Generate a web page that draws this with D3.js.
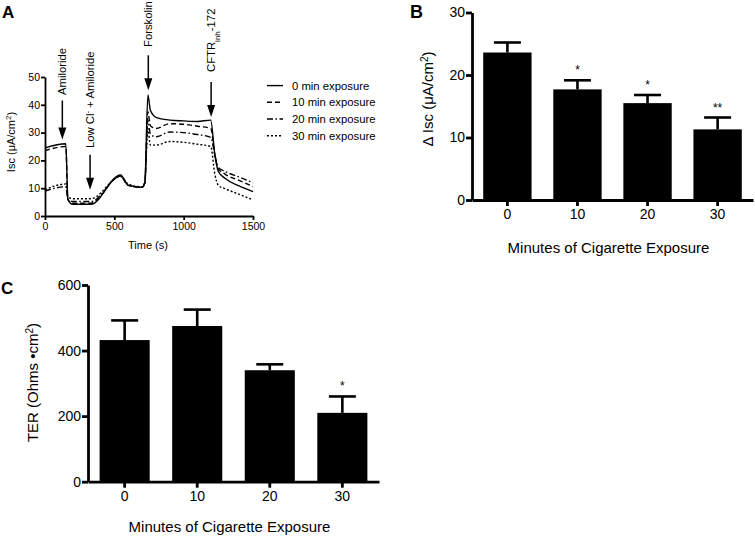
<!DOCTYPE html>
<html>
<head>
<meta charset="utf-8">
<script src="https://cdn.jsdelivr.net/npm/d3@7"></script>
<style>
  html, body { margin: 0; padding: 0; background: #fff; }
  svg { display: block; font-family: Arial, "Liberation Sans", Helvetica, sans-serif; }
</style>
</head>
<body>
<script>
// ---------------- Panel A data (Isc traces) ----------------
const timeS  = [0, 150, 165, 200, 330, 545, 600, 700, 720, 742, 760, 800, 900, 1000, 1100, 1195, 1225, 1250, 1300, 1400, 1500];
const isc0   = [24.5, 26, 6, 4.2, 4.2, 14.8, 11, 10.3, 12, 43.5, 38, 35.5, 34.5, 34.2, 34, 34.5, 22, 16, 13.5, 10.8, 8.8];
const isc10  = [23.5, 25, 6, 4.6, 4.6, 14.5, 11, 10.3, 12, 37.5, 32.5, 31.5, 33.2, 33, 32.3, 31.5, 22, 17, 15, 12.8, 10.6];
const isc20  = [9, 10.5, 6, 5.2, 5.2, 14.3, 11, 10.3, 12, 34.5, 29.5, 28.5, 30.2, 30, 29.3, 28.3, 22, 17.5, 16, 14, 12];
const isc30  = [9.5, 11.5, 7, 6.2, 6.2, 14.2, 11.5, 10.5, 12, 31.5, 25.5, 25.5, 26.8, 26.5, 25.8, 25, 15, 11, 9.8, 7.8, 5.8];
const seriesLabels = ["0 min exposure", "10 min exposure", "20 min exposure", "30 min exposure"];
const timeTicks = [0, 500, 1000, 1500];
const iscTicks = [0, 10, 20, 30, 40, 50];
// annotations: time (s) and arrow tip value
const annTimes = [125, 325, 745, 1198];
const annTips  = [27.5, 9.4, 45.2, 35.6];

// ---------------- Panel B data ----------------
const minutes = ["0", "10", "20", "30"];
const deltaIsc = [23.6, 17.7, 15.5, 11.3];
const deltaIscErr = [1.6, 1.45, 1.3, 1.9];
const deltaIscSig = ["", "*", "*", "**"];
const deltaIscTicks = [0, 10, 20, 30];

// ---------------- Panel C data ----------------
const ter = [432, 475, 340, 210];
const terErr = [60, 50, 18, 50];
const terSig = ["", "", "", "*"];
const terTicks = [0, 200, 400, 600];

const svg = d3.select("body").append("svg").attr("width", 755).attr("height", 536);

// ============ Panel A ============
const gA = svg.append("g");
const xA = d3.scaleLinear().domain([0, 1500]).range([45, 253]);
const yA = d3.scaleLinear().domain([0, 50]).range([216, 77]);

const axAx = gA.append("g").attr("transform", "translate(0,216)")
  .call(d3.axisBottom(xA).tickValues(timeTicks).tickSize(4).tickSizeOuter(0).tickPadding(3).tickFormat(d3.format("d")));
const axAy = gA.append("g").attr("transform", "translate(45,0)")
  .call(d3.axisLeft(yA).tickValues(iscTicks).tickSize(4).tickSizeOuter(0).tickPadding(1));
[axAx, axAy].forEach(a => {
  a.selectAll("path,line").attr("stroke", "#000").attr("stroke-width", 1.8);
  a.selectAll("text").attr("font-size", 10.5).attr("fill", "#000").attr("font-family", "Arial, 'Liberation Sans', sans-serif");
});

const seriesData = [isc0, isc10, isc20, isc30];
const dashes = [null, "5,3", "6,2.5,1.5,2.5", "2,2"];
const lineA = d3.line().x(d => xA(d[0])).y(d => yA(d[1])).curve(d3.curveMonotoneX);
seriesData.forEach((vals, i) => {
  gA.append("path")
    .datum(timeS.map((t, j) => [t, vals[j]]))
    .attr("d", lineA)
    .attr("fill", "none")
    .attr("stroke", "#000")
    .attr("stroke-width", 1.4)
    .attr("stroke-dasharray", dashes[i]);
});

// Legend
const legA = gA.append("g");
seriesLabels.forEach((lab, i) => {
  const y = 85.6 + i * 16.7;
  legA.append("line").attr("x1", 267).attr("x2", 283).attr("y1", y).attr("y2", y)
    .attr("stroke", "#000").attr("stroke-width", 1.4).attr("stroke-dasharray", dashes[i]);
  legA.append("text").attr("x", 292).attr("y", y).attr("dy", "0.35em")
    .attr("font-size", 11.3).text(lab);
});

// Axis titles
gA.append("text").attr("x", 148).attr("y", 249).attr("text-anchor", "middle").attr("font-size", 11).text("Time (s)");
const tA = gA.append("text").attr("transform", "translate(15,142) rotate(-90)").attr("text-anchor", "middle").attr("font-size", 11);
tA.append("tspan").text("Isc (\u03bcA/cm");
tA.append("tspan").attr("baseline-shift", "super").attr("font-size", 8).text("2");
tA.append("tspan").text(")");

// Annotations (arrows + rotated labels)
const arrowLens = [39, 35, 35, 35];
const annTextBottoms = [95, 148, 47, 72];
annTimes.forEach((t, i) => {
  const x = xA(t), tip = yA(annTips[i]), top = tip - arrowLens[i];
  gA.append("line").attr("x1", x).attr("x2", x).attr("y1", top).attr("y2", tip - 10)
    .attr("stroke", "#000").attr("stroke-width", 1.5);
  gA.append("path").attr("d", `M${x - 4},${tip - 12}L${x + 4},${tip - 12}L${x},${tip}Z`).attr("fill", "#000");
  const tx = gA.append("text").attr("transform", `translate(${x},${annTextBottoms[i]}) rotate(-90)`)
    .attr("text-anchor", "start").attr("dy", "0.35em").attr("font-size", 11.3);
  if (i === 0) tx.text("Amiloride");
  if (i === 1) {
    tx.append("tspan").text("Low Cl");
    tx.append("tspan").attr("baseline-shift", "super").attr("font-size", 8).text("-");
    tx.append("tspan").text(" + Amiloride");
  }
  if (i === 2) tx.text("Forskolin");
  if (i === 3) {
    tx.append("tspan").text("CFTR");
    tx.append("tspan").attr("baseline-shift", "sub").attr("font-size", 8).text("inh");
    tx.append("tspan").text("-172");
  }
});

gA.append("text").attr("x", 2).attr("y", 17.5).attr("font-size", 17).attr("font-weight", "bold").text("A");

// ============ Bar panels ============
function barPanel(opts) {
  const g = svg.append("g");
  const x = d3.scaleBand().domain(minutes).range([opts.x0, opts.x1]).paddingInner(0.31).paddingOuter(0.16);
  const y = d3.scaleLinear().domain(opts.domain).range([opts.y0, opts.yTop]);

  // bars
  g.selectAll("rect.bar").data(opts.values).join("rect")
    .attr("x", (d, i) => x(minutes[i])).attr("width", x.bandwidth())
    .attr("y", d => y(d)).attr("height", d => y(0) - y(d)).attr("fill", "#000");
  // error bars (upper only)
  const cap = 27;
  opts.values.forEach((v, i) => {
    const cx = x(minutes[i]) + x.bandwidth() / 2;
    g.append("line").attr("x1", cx).attr("x2", cx).attr("y1", y(v)).attr("y2", y(v + opts.errs[i]))
      .attr("stroke", "#000").attr("stroke-width", 2.6);
    g.append("line").attr("x1", cx - cap / 2).attr("x2", cx + cap / 2).attr("y1", y(v + opts.errs[i])).attr("y2", y(v + opts.errs[i]))
      .attr("stroke", "#000").attr("stroke-width", 2.6);
    if (opts.sig[i]) {
      g.append("text").attr("x", cx).attr("y", y(v + opts.errs[i]) - 6).attr("text-anchor", "middle")
        .attr("font-size", 12).text(opts.sig[i]);
    }
  });

  const ax = g.append("g").attr("transform", `translate(0,${opts.y0})`)
    .call(d3.axisBottom(x).tickSize(6).tickSizeOuter(0).tickPadding(3));
  const ay = g.append("g").attr("transform", `translate(${opts.x0},0)`)
    .call(d3.axisLeft(y).tickValues(opts.ticks).tickSize(6).tickSizeOuter(0).tickPadding(1));
  [ax, ay].forEach(a => {
    a.selectAll("path,line").attr("stroke", "#000").attr("stroke-width", 2.8);
    a.selectAll("text").attr("font-size", 14).attr("fill", "#000").attr("font-family", "Arial, 'Liberation Sans', sans-serif");
  });

  g.append("text").attr("x", (opts.x0 + opts.x1) / 2 - 4).attr("y", opts.titleY).attr("text-anchor", "middle")
    .attr("font-size", 15).text("Minutes of Cigarette Exposure");
  const yt = g.append("text").attr("transform", `translate(${opts.ytX},${opts.ytY}) rotate(-90)`)
    .attr("text-anchor", "middle").attr("font-size", 15);
  yt.append("tspan").text(opts.ytText);
  yt.append("tspan").attr("baseline-shift", "super").attr("font-size", 10).text("2");
  yt.append("tspan").text(")");
  g.append("text").attr("x", opts.labX).attr("y", opts.labY).attr("font-size", opts.labSize)
    .attr("font-weight", "bold").text(opts.label);
}

barPanel({
  x0: 472, x1: 753, y0: 200, yTop: 12.5, domain: [0, 30],
  values: deltaIsc, errs: deltaIscErr, sig: deltaIscSig, ticks: deltaIscTicks,
  titleY: 253, ytX: 433, ytY: 99, ytText: "\u0394 Isc (\u03bcA/cm",
  label: "B", labX: 410, labY: 17.5, labSize: 18
});

barPanel({
  x0: 88, x1: 379, y0: 481.7, yTop: 285, domain: [0, 600],
  values: ter, errs: terErr, sig: terSig, ticks: terTicks,
  titleY: 532, ytX: 37.5, ytY: 382.5, ytText: "TER (Ohms \u2022cm",
  label: "C", labX: 1, labY: 293.5, labSize: 17
});
</script>
</body>
</html>
